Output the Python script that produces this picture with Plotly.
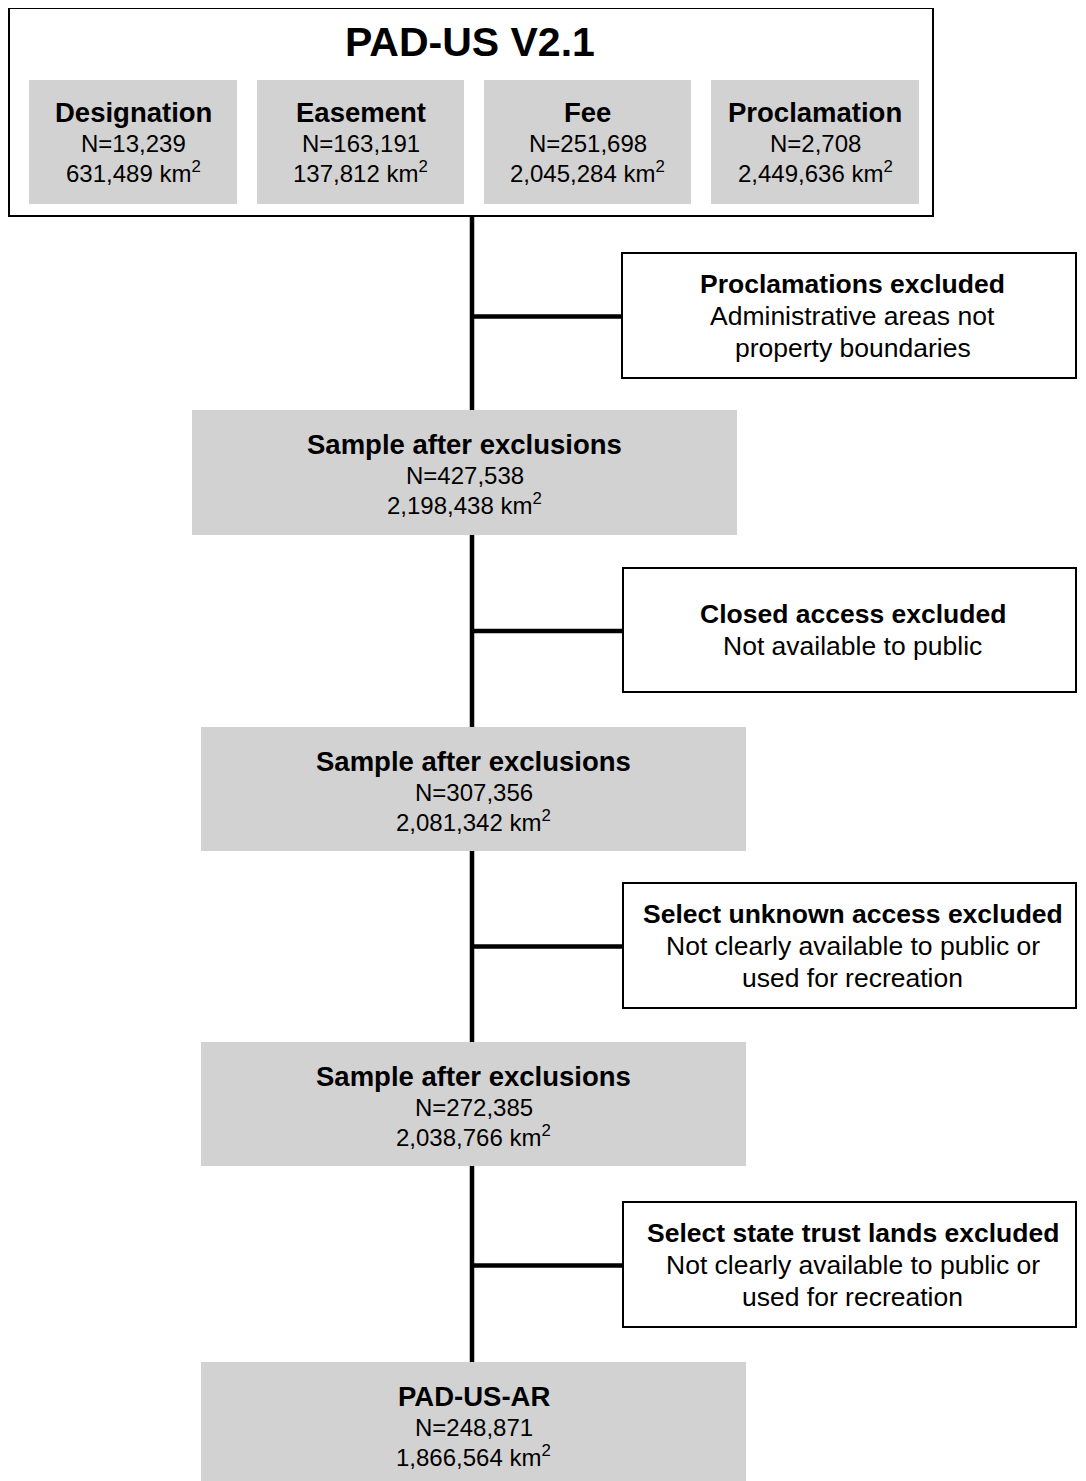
import plotly.graph_objects as go

# ---------------- data ----------------
top_title = "PAD-US V2.1"
source_types = ["Designation", "Easement", "Fee", "Proclamation"]
source_n = [13239, 163191, 251698, 2708]
source_km2 = [631489, 137812, 2045284, 2449636]

stage_titles = ["Sample after exclusions", "Sample after exclusions",
                "Sample after exclusions", "PAD-US-AR"]
stage_n = [427538, 307356, 272385, 248871]
stage_km2 = [2198438, 2081342, 2038766, 1866564]

excl_titles = ["Proclamations excluded", "Closed access excluded",
               "Select unknown access excluded", "Select state trust lands excluded"]
excl_notes = [["Administrative areas not", "property boundaries"],
              ["Not available to public"],
              ["Not clearly available to public or", "used for recreation"],
              ["Not clearly available to public or", "used for recreation"]]

# ---------------- layout constants (pixels) ----------------
W, H = 1086, 1481
OFF = 8  # page body margin compensation
FONT = "Arial, Liberation Sans, Helvetica, sans-serif"
GREY = "#d3d2d3"
top_box = (9, 8, 933, 216)
src_boxes = [(29, 237), (257, 464), (484, 691), (711, 919)]
src_y = (80, 204)
stage_boxes = [(192, 410, 737, 535), (201, 727, 746, 851),
               (201, 1042, 746, 1166), (201, 1362, 746, 1500)]
excl_boxes = [(622, 253, 1076, 378), (623, 568, 1076, 692),
              (623, 883, 1076, 1008), (623, 1202, 1076, 1327)]
excl_cx = 852.5
spine_x = 472

fig = go.Figure()
shapes = []
ann = []

def fmt(v):
    return f"{v:,}"

def text(x, y, s, size, bold=False):
    ann.append(dict(x=x, y=y, xref="x", yref="y", text=(f"<b>{s}</b>" if bold else s),
                    showarrow=False, xanchor="center", yanchor="middle",
                    font=dict(family=FONT, size=size, color="black")))

# spine line
shapes.append(dict(type="line", x0=spine_x, x1=spine_x, y0=top_box[3], y1=stage_boxes[-1][1],
                   line=dict(color="black", width=4.5)))

# top box
shapes.append(dict(type="rect", x0=top_box[0], y0=top_box[1], x1=top_box[2], y1=top_box[3],
                   line=dict(color="black", width=2), fillcolor="white"))
text(470, 42, top_title, 41, bold=True)
for (x0, x1), name, n, a in zip(src_boxes, source_types, source_n, source_km2):
    shapes.append(dict(type="rect", x0=x0, x1=x1, y0=src_y[0], y1=src_y[1],
                       line=dict(width=0), fillcolor=GREY))
    cx = (x0 + x1) / 2
    text(cx, 112, name, 27.5, bold=True)
    text(cx, 143, f"N={fmt(n)}", 24)
    text(cx, 172, f"{fmt(a)} km<sup>2</sup>", 24)

# exclusion boxes with branch lines
for (x0, y0, x1, y1), t, notes in zip(excl_boxes, excl_titles, excl_notes):
    cy = (y0 + y1) / 2
    shapes.append(dict(type="line", x0=spine_x, x1=x0, y0=cy + 1, y1=cy + 1,
                       line=dict(color="black", width=4.5)))
    shapes.append(dict(type="rect", x0=x0, y0=y0, x1=x1, y1=y1,
                       line=dict(color="black", width=2), fillcolor="white"))
    lines = [(t, True)] + [(s, False) for s in notes]
    nl = len(lines)
    for i, (s, b) in enumerate(lines):
        text(excl_cx, cy + (i - (nl - 1) / 2) * 32, s, 26.5, bold=b)

# stage boxes
for (x0, y0, x1, y1), t, n, a in zip(stage_boxes, stage_titles, stage_n, stage_km2):
    shapes.append(dict(type="rect", x0=x0, y0=y0, x1=x1, y1=y1,
                       line=dict(width=0), fillcolor=GREY))
    cx = (x0 + x1) / 2
    text(cx, y0 + 34, t, 27.5, bold=True)
    text(cx, y0 + 65, f"N={fmt(n)}", 24)
    text(cx, y0 + 94, f"{fmt(a)} km<sup>2</sup>", 24)

fig.update_layout(
    width=W, height=H, margin=dict(l=0, r=0, t=0, b=0),
    paper_bgcolor="white", plot_bgcolor="white",
    xaxis=dict(range=[OFF, W + OFF], visible=False, fixedrange=True),
    yaxis=dict(range=[H + OFF, OFF], visible=False, fixedrange=True),
    shapes=shapes, annotations=ann, showlegend=False,
)
fig.write_html("out.html")
